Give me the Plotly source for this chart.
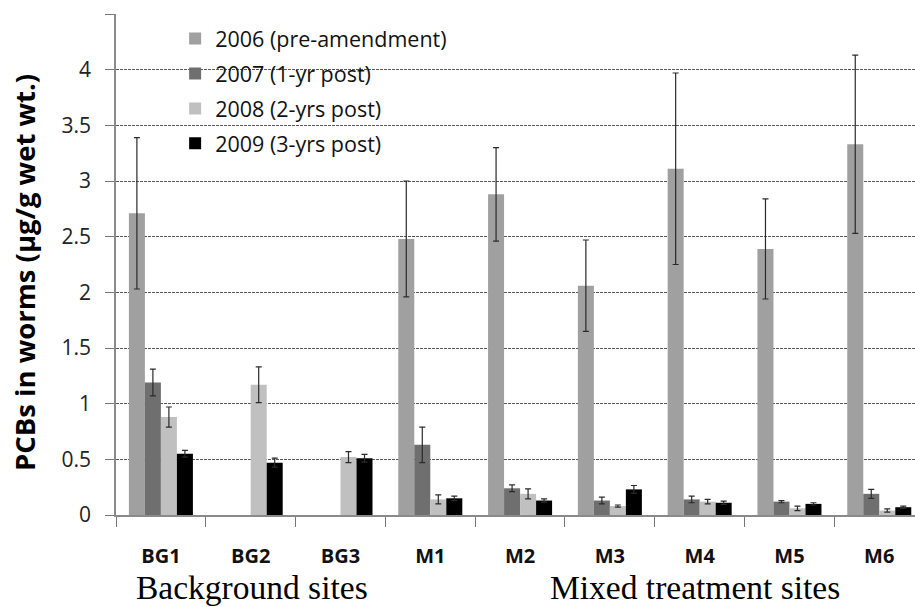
import plotly.graph_objects as go

# Sites and sampling years
sites = ["BG1", "BG2", "BG3", "M1", "M2", "M3", "M4", "M5", "M6"]
years = ["2006 (pre-amendment)", "2007 (1-yr post)", "2008 (2-yrs post)", "2009 (3-yrs post)"]

# Mean PCB concentration in worms (µg/g wet wt.) for each year
pcb_2006 = [2.71, None, None, 2.48, 2.88, 2.06, 3.11, 2.39, 3.33]
pcb_2007 = [1.19, None, None, 0.63, 0.24, 0.13, 0.14, 0.12, 0.19]
pcb_2008 = [0.88, 1.17, 0.52, 0.14, 0.19, 0.08, 0.12, 0.06, 0.04]
pcb_2009 = [0.55, 0.47, 0.51, 0.15, 0.13, 0.23, 0.11, 0.10, 0.07]

# Error bar half-widths
err_2006 = [0.68, None, None, 0.52, 0.42, 0.41, 0.86, 0.45, 0.80]
err_2007 = [0.12, None, None, 0.16, 0.03, 0.03, 0.03, 0.01, 0.04]
err_2008 = [0.09, 0.16, 0.05, 0.04, 0.045, 0.01, 0.02, 0.02, 0.015]
err_2009 = [0.03, 0.04, 0.035, 0.02, 0.015, 0.035, 0.015, 0.01, 0.01]

y_ticks = [0, 0.5, 1, 1.5, 2, 2.5, 3, 3.5, 4, 4.5]
y_tick_text = ["0", "0.5", "1", "1.5", "2", "2.5", "3", "3.5", "4", "4.5"]

series = [
    (years[0], pcb_2006, err_2006, "#a0a0a0"),
    (years[1], pcb_2007, err_2007, "#6f6f6f"),
    (years[2], pcb_2008, err_2008, "#c0c0c0"),
    (years[3], pcb_2009, err_2009, "#000000"),
]

fig = go.Figure()
for i, (name, vals, errs, color) in enumerate(series):
    fig.add_trace(go.Bar(
        name=name,
        x=sites,
        y=vals,
        marker=dict(color=color, line=dict(width=0)),
        error_y=dict(type="data", array=errs, visible=True,
                     color="#2a2a2a", thickness=1.2, width=3),
        legendgroup=f"g{i}",
    ))

font_main = "Open Sans, Lato, sans-serif"
font_serif = "Liberation Serif, Times New Roman, serif"

# plot area in pixels: x 116..915, y 14..515
def px_x(p):
    return (p - 116) / 799

def px_y(p):
    return (515 - p) / 501

fig.update_layout(
    width=915, height=607,
    margin=dict(l=116, r=0, t=14, b=92),
    paper_bgcolor="white", plot_bgcolor="white",
    barmode="group", bargap=0.287, bargroupgap=0.0,
    showlegend=True,
    legend=dict(
        x=0.074, y=0.992, xanchor="left", yanchor="top",
        bgcolor="rgba(0,0,0,0)",
        font=dict(family=font_main, size=21.5, color="#111111"),
        tracegroupgap=4,
        itemclick=False,
    ),
    xaxis=dict(
        type="category",
        range=[-0.5, 8.398],
        tickson="boundaries",
        ticks="outside", ticklen=10, tickcolor="#777777", tickwidth=1,
        showline=True, linecolor="#8a8a8a", linewidth=1.5,
        showgrid=False,
        tickmode="array", tickvals=sites,
        ticktext=[f"<b>{s}</b>" for s in sites],
        tickfont=dict(family=font_main, size=20, color="#111111"),
        ticklabelstandoff=22,
    ),
    yaxis=dict(
        range=[0, 4.5],
        tickmode="array", tickvals=y_ticks, ticktext=y_tick_text,
        ticks="outside", ticklen=9, tickcolor="#777777", tickwidth=1,
        showline=True, linecolor="#8a8a8a", linewidth=1.5,
        showgrid=True, gridcolor="#555555", gridwidth=1, griddash="3px,1px",
        zeroline=False,
        tickfont=dict(family=font_main, size=21, color="#222222"),
        ticklabelstandoff=10,
    ),
    shapes=[
        # white panel behind the legend, masking the gridlines there
        dict(type="rect", xref="paper", yref="paper", layer="below",
             x0=px_x(158), x1=px_x(474), y0=px_y(160), y1=px_y(20),
             fillcolor="white", line=dict(width=0)),
    ],
    annotations=[
        dict(text="<b>PCBs in worms (µg/g wet wt.)</b>", textangle=-90,
             xref="paper", yref="paper", x=px_x(24), y=px_y(273),
             xanchor="center", yanchor="middle", showarrow=False,
             font=dict(family=font_main, size=27.5, color="#000000")),
        dict(text="Background sites", xref="paper", yref="paper",
             x=px_x(252), y=px_y(587),
             xanchor="center", yanchor="middle", showarrow=False,
             font=dict(family=font_serif, size=33.5, color="#000000")),
        dict(text="Mixed treatment sites", xref="paper", yref="paper",
             x=px_x(695), y=px_y(587),
             xanchor="center", yanchor="middle", showarrow=False,
             font=dict(family=font_serif, size=33.5, color="#000000")),
    ],
)

fig.write_html("out.html")
